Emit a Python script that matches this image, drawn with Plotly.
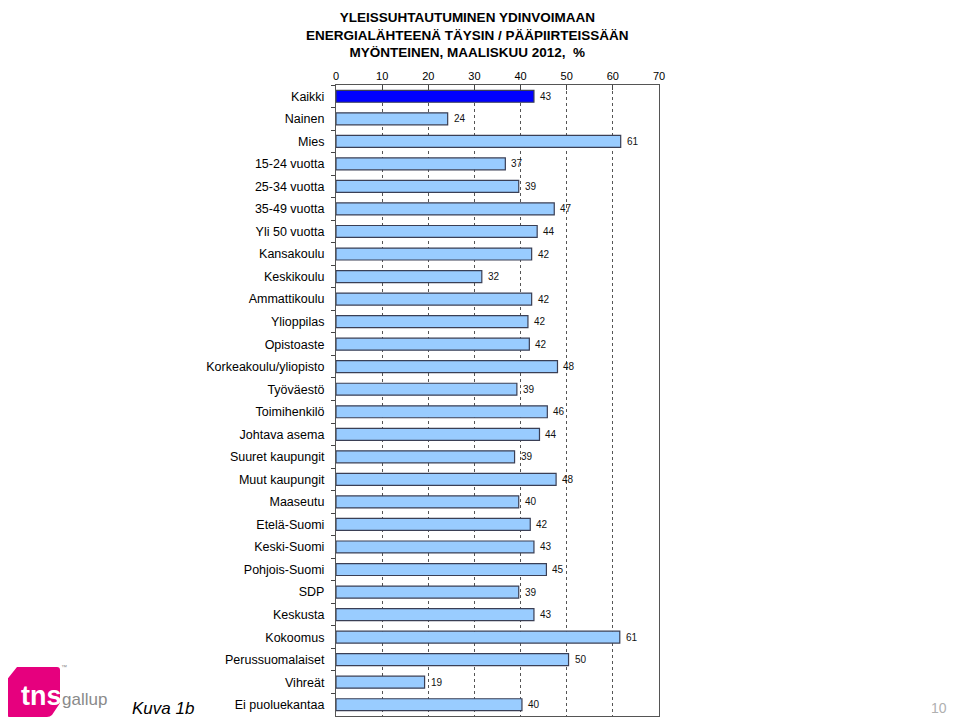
import plotly.graph_objects as go

categories = ["Kaikki", "Nainen", "Mies", "15-24 vuotta", "25-34 vuotta", "35-49 vuotta",
              "Yli 50 vuotta", "Kansakoulu", "Keskikoulu", "Ammattikoulu", "Ylioppilas",
              "Opistoaste", "Korkeakoulu/yliopisto", "Työväestö", "Toimihenkilö",
              "Johtava asema", "Suuret kaupungit", "Muut kaupungit", "Maaseutu",
              "Etelä-Suomi", "Keski-Suomi", "Pohjois-Suomi", "SDP", "Keskusta",
              "Kokoomus", "Perussuomalaiset", "Vihreät", "Ei puoluekantaa"]
# bar lengths
values = [42.9, 24.2, 61.7, 36.7, 39.6, 47.3, 43.6, 42.4, 31.6, 42.4, 41.6, 41.9, 48.0,
          39.2, 45.8, 44.1, 38.7, 47.7, 39.6, 42.1, 42.9, 45.6, 39.6, 42.9, 61.5, 50.4,
          19.2, 40.3]
# printed value labels
value_labels = ["43", "24", "61", "37", "39", "47", "44", "42", "32", "42", "42", "42", "48",
                "39", "46", "44", "39", "48", "40", "42", "43", "45", "39", "43", "61", "50",
                "19", "40"]
x_ticks = [0, 10, 20, 30, 40, 50, 60, 70]

title_lines = ["YLEISSUHTAUTUMINEN YDINVOIMAAN",
               "ENERGIALÄHTEENÄ TÄYSIN / PÄÄPIIRTEISSÄÄN",
               "MYÖNTEINEN, MAALISKUU 2012,  %"]

# page is drawn with an 8px body margin; work in page pixels and offset
OFF = 8
W, H = 959 - OFF, 725 - 2 * OFF
L, R, T, B = 336 - OFF, 659 - OFF, 85 - OFF, 716 - OFF

def px(x):
    return (x - OFF - L) / (R - L)

def py(y):
    return (B - (y - OFF)) / (B - T)

colors = ["#0000FF"] + ["#99CCFF"] * (len(categories) - 1)
FONT = "Liberation Sans, Arial"

fig = go.Figure()
fig.add_trace(go.Bar(
    x=values, y=categories, orientation="h",
    marker=dict(color=colors, line=dict(color="#3a3f55", width=1.2)),
    hoverinfo="x+y",
))

annotations = []
for c, v, t in zip(categories, values, value_labels):
    annotations.append(dict(x=v, y=c, xref="x", yref="y", text=t, showarrow=False,
                            xanchor="left", xshift=4,
                            font=dict(family=FONT, size=10, color="#111111")))

annotations.append(dict(x=px(467), y=py(8), xref="paper", yref="paper",
                        text="<br>".join("<b>" + s + "</b>" for s in title_lines),
                        showarrow=False, xanchor="center", yanchor="top", align="center",
                        font=dict(family=FONT, size=13.5, color="#000000")))

annotations.append(dict(x=px(130), y=py(708), xref="paper", yref="paper", text="<i>Kuva 1b</i>",
                        showarrow=False, xanchor="left", yanchor="middle",
                        font=dict(family=FONT, size=17, color="#000000")))
annotations.append(dict(x=px(949), y=py(708), xref="paper", yref="paper", text="10",
                        showarrow=False, xanchor="right", yanchor="middle",
                        font=dict(family=FONT, size=14, color="#b0b0b0")))
# logo texts
annotations.append(dict(x=px(41), y=py(696), xref="paper", yref="paper", text="<b>tns</b>",
                        showarrow=False, xanchor="center", yanchor="middle",
                        font=dict(family=FONT, size=27, color="#ffffff")))
annotations.append(dict(x=px(60), y=py(699), xref="paper", yref="paper", text="gallup",
                        showarrow=False, xanchor="left", yanchor="middle",
                        font=dict(family=FONT, size=17, color="#8a8a8a")))
annotations.append(dict(x=px(59), y=py(667), xref="paper", yref="paper", text="™",
                        showarrow=False, xanchor="left", yanchor="middle",
                        font=dict(family=FONT, size=6, color="#8a8a8a")))

def P(x, y):
    return f"{px(x):.5f},{py(y):.5f}"

logo_path = ("M " + P(17, 667) + " L " + P(57, 667) + " Q " + P(60, 667) + " " + P(60, 670) +
             " L " + P(60, 703) + " L " + P(52, 715) + " Q " + P(50, 717) + " " + P(47, 717) +
             " L " + P(10, 717) + " Q " + P(7, 717) + " " + P(7, 714) +
             " L " + P(7, 683) + " Q " + P(7, 679) + " " + P(9, 677) + " Z")

fig.update_layout(
    width=W, height=H,
    margin=dict(l=L, r=W - R, t=T, b=H - B, pad=0),
    paper_bgcolor="white", plot_bgcolor="white",
    showlegend=False,
    bargap=0.47,
    annotations=annotations,
    shapes=[dict(type="path", xref="paper", yref="paper", path=logo_path,
                 fillcolor="#E6007E", line=dict(width=0), layer="below")],
    font=dict(family=FONT, size=12, color="#000000"),
    xaxis=dict(range=[0, 70], side="top", tickvals=x_ticks, ticktext=[str(v) for v in x_ticks],
               ticks="inside", ticklen=5, tickcolor="#444444", tickwidth=1,
               showgrid=True, gridcolor="#555555", griddash="dot", gridwidth=1,
               showline=True, linecolor="#555555", linewidth=1.2, mirror=True,
               zeroline=False, tickfont=dict(size=11, color="#000000"), fixedrange=True),
    yaxis=dict(categoryorder="array", categoryarray=categories, autorange="reversed",
               ticks="outside", ticklen=4, tickcolor="#444444", tickson="boundaries",
               showline=True, linecolor="#555555", linewidth=1.2, mirror=True,
               showgrid=False, ticklabelstandoff=8,
               tickfont=dict(size=12.5, color="#000000"), fixedrange=True),
)

fig.write_html("out.html")
